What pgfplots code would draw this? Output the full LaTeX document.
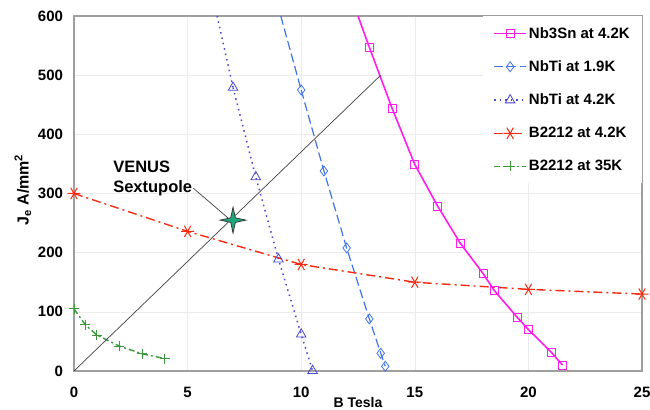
\documentclass[border=0pt]{standalone}
\usepackage{pgfplots}
\pgfplotsset{compat=1.18}
\usepackage{fontspec}
\setmainfont{Liberation Sans}
\definecolor{magentaline}{HTML}{FF1DF0}
\definecolor{bluehi}{HTML}{3F74E6}
\definecolor{bluelo}{HTML}{4646D2}
\definecolor{redline}{HTML}{F52A10}
\definecolor{greenline}{HTML}{3A9A3A}
\definecolor{venus}{HTML}{1FA67A}

\pgfdeclareplotmark{star4}{%
  \pgfpathmoveto{\pgfqpoint{0pt}{\pgfplotmarksize}}%
  \pgfpathlineto{\pgfqpoint{0.18\pgfplotmarksize}{0.18\pgfplotmarksize}}%
  \pgfpathlineto{\pgfqpoint{\pgfplotmarksize}{0pt}}%
  \pgfpathlineto{\pgfqpoint{0.18\pgfplotmarksize}{-0.18\pgfplotmarksize}}%
  \pgfpathlineto{\pgfqpoint{0pt}{-\pgfplotmarksize}}%
  \pgfpathlineto{\pgfqpoint{-0.18\pgfplotmarksize}{-0.18\pgfplotmarksize}}%
  \pgfpathlineto{\pgfqpoint{-\pgfplotmarksize}{0pt}}%
  \pgfpathlineto{\pgfqpoint{-0.18\pgfplotmarksize}{0.18\pgfplotmarksize}}%
  \pgfpathclose
  \pgfusepathqfillstroke}

\begin{document}
\begin{tikzpicture}
\begin{axis}[
  scale only axis,
  width=568pt, height=355pt,
  xmin=0, xmax=25, ymin=0, ymax=600,
  xtick={0,5,...,25}, ytick={0,100,...,600},
  major tick length=0pt,
  grid=major,
  grid style={gray!15, line width=0.6pt},
  axis line style={gray!75, line width=1.3pt},
  /pgf/number format/assume math mode=true,
  tick label style={font=\fontsize{15}{17}\selectfont\bfseries},
  xticklabel style={anchor=center, yshift=-21pt},
  yticklabel style={anchor=east, xshift=-7.5pt},
  xlabel={B Tesla},
  xlabel style={at={(axis description cs:0.5,0)}, anchor=base, yshift=-36.5pt,
    font=\fontsize{14}{16}\selectfont\bfseries},
  ylabel={J\textsubscript{e} A/mm\textsuperscript{2}},
  ylabel style={at={(axis description cs:-0.09,0.51)}, anchor=center,
    font=\fontsize{16}{18}\selectfont\bfseries},
  legend style={at={(rel axis cs:1,1)}, anchor=north east, draw=none, fill=white,
    font=\fontsize{15}{17}\selectfont\bfseries, row sep=17pt,
    inner xsep=10pt, inner ysep=9pt},
  legend cell align=left,
  legend image code/.code={
    \draw[#1, mark=none] (0pt,0pt) -- (32pt,0pt);
    \draw[#1, only marks] plot coordinates {(16pt,0pt)};
  },
]
\addplot[color=magentaline, line width=1.6pt, mark=square, mark size=4pt,
  mark options={solid, line width=0.8pt, fill=white}]
  coordinates {(13,547) (14,444) (15,349) (16,279) (17,216) (18,165) (18.5,136)
    (19.5,91) (20,70) (21,32) (21.5,10)};
\addlegendentry{Nb3Sn at 4.2K}
\addplot[color=bluehi, line width=1.2pt, dash pattern=on 9pt off 4pt, mark=diamond, mark size=5pt,
  mark options={solid, line width=0.8pt, fill=white}]
  coordinates {(10,475) (11,338) (12,208) (13,88) (13.5,30) (13.7,8)};
\addlegendentry{NbTi at 1.9K}
\addplot[color=bluelo, line width=1.5pt, dash pattern=on 1.5pt off 4pt, mark=triangle, mark size=5.5pt,
  mark options={solid, line width=0.8pt, fill=white}]
  coordinates {(7,479) (8,328) (9,189) (10,62) (10.5,0.5)};
\addlegendentry{NbTi at 4.2K}
\addplot[color=redline, line width=1.4pt, dash pattern=on 9pt off 4pt on 2pt off 4pt,
  mark=asterisk, mark size=6.5pt, mark options={solid, rotate=90, line width=1pt}]
  coordinates {(0,300) (5,236) (10,180) (15,150) (20,138) (25,130)};
\addlegendentry{B2212 at 4.2K}
\addplot[color=greenline, line width=1.4pt, dash pattern=on 6pt off 3pt on 2pt off 3pt,
  mark=+, mark size=5pt, mark options={solid, line width=0.8pt}]
  coordinates {(0,105) (0.5,78) (1,61) (2,42) (3,29) (4,21)};
\addlegendentry{B2212 at 35K}
% curves continue above the top of the plot
\addplot[color=magentaline, line width=1.6pt, forget plot] coordinates {(12.5,600) (13,547)};
\addplot[color=bluehi, line width=1.2pt, dash pattern=on 9pt off 4pt, forget plot]
  coordinates {(9.1,600) (10,475)};
\addplot[color=bluelo, line width=1.5pt, dash pattern=on 1.5pt off 4pt, forget plot]
  coordinates {(6.3,600) (7,479)};
\addplot[black!75, line width=0.7pt, forget plot] coordinates {(0,0) (13.5,500)};
\draw[black!75, line width=0.7pt] (axis cs:5.25,309) -- (axis cs:6.8,258);
\addplot[only marks, mark=star4, mark size=13pt, forget plot,
  mark options={fill=venus, draw=black!80, line width=0.7pt}] coordinates {(7,255)};
\node[align=left, anchor=base west, inner sep=0pt, font=\fontsize{16.5}{20}\selectfont\bfseries]
  at (axis cs:1.72,302) {VENUS\\Sextupole};
\end{axis}
\pgfresetboundingbox
\path[use as bounding box] ([shift={(-74pt,-39pt)}]current axis.south west)
  rectangle ([shift={(8pt,16pt)}]current axis.north east);
\end{tikzpicture}
\end{document}
